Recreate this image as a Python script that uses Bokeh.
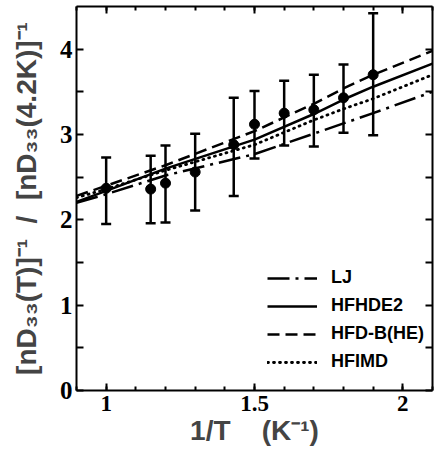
from bokeh.plotting import figure
from bokeh.models import (Range1d, LinearAxis, FixedTicker, Whisker, TeeHead,
                          ColumnDataSource, Legend, LegendItem)
from bokeh.embed import file_html
from bokeh.resources import INLINE

# ---- data ----
x_data = [1.0, 1.15, 1.2, 1.3, 1.43, 1.5, 1.6, 1.7, 1.8, 1.9]
y_data = [2.37, 2.36, 2.43, 2.56, 2.88, 3.12, 3.25, 3.29, 3.43, 3.70]
y_upper = [2.73, 2.75, 2.87, 3.01, 3.43, 3.51, 3.63, 3.70, 3.82, 4.42]
y_lower = [1.95, 1.96, 1.97, 2.11, 2.28, 2.72, 2.87, 2.86, 3.02, 2.99]

curve_x = [0.9, 1.0, 1.2, 1.5, 1.7, 1.8, 1.9, 2.1]
lj = [2.20, 2.30, 2.52, 2.77, 3.01, 3.13, 3.25, 3.50]
hfhde2 = [2.21, 2.34, 2.60, 2.94, 3.24, 3.41, 3.56, 3.83]
hfdb = [2.28, 2.40, 2.64, 3.04, 3.36, 3.54, 3.70, 3.98]
hfimd = [2.26, 2.36, 2.58, 2.88, 3.17, 3.30, 3.42, 3.70]

series_names = ["LJ", "HFHDE2", "HFD-B(HE)", "HFIMD"]

x_major_ticks = [1, 1.5, 2]
x_tick_labels = ["1", "1.5", "2"]
x_minor_ticks = [0.9, 1.0, 1.1, 1.2, 1.3, 1.4, 1.5, 1.6, 1.7, 1.8, 1.9, 2.0, 2.1]
y_major_ticks = [0, 1, 2, 3, 4]
y_tick_labels = ["0", "1", "2", "3", "4"]
y_minor_ticks = [0.5, 1.5, 2.5, 3.5]

NB = "\u00a0"
x_title = "1/T" + NB * 4 + "(K\u207b\u00b9)"
y_title = ("[nD\u2083\u2083(T)]\u207b\u00b9" + NB * 2 + "/" + NB * 2 +
           "[nD\u2083\u2083(4.2K)]\u207b\u00b9")

FONT = "Liberation Sans"
TICK_FONT = "Liberation Sans Narrow"

p = figure(width=434, height=454, output_backend="svg", toolbar_location=None,
           x_range=Range1d(0.9, 2.1), y_range=Range1d(0, 4.5),
           min_border_left=76, min_border_right=2, min_border_top=6,
           min_border_bottom=64)
p.xgrid.grid_line_color = None
p.ygrid.grid_line_color = None
p.outline_line_color = None
p.background_fill_color = "white"
p.border_fill_color = "white"


def style_axis(ax, major, minor, labels, major_len, minor_len, show_labels, size="25px"):
    ax.ticker = FixedTicker(ticks=major, minor_ticks=minor)
    ax.axis_line_width = 2
    ax.axis_line_color = "black"
    ax.major_tick_in = major_len
    ax.major_tick_out = 0
    ax.minor_tick_in = minor_len
    ax.minor_tick_out = 0
    ax.major_tick_line_width = 2
    ax.minor_tick_line_width = 2
    ax.major_tick_line_color = "black"
    ax.minor_tick_line_color = "black"
    if show_labels:
        ax.major_label_overrides = {t: s for t, s in zip(major, labels)}
        ax.major_label_text_font = TICK_FONT
        ax.major_label_text_font_size = size
        ax.major_label_text_font_style = "bold"
        ax.major_label_text_color = "black"
    else:
        ax.major_label_overrides = {t: "" for t in major}
        ax.major_label_text_font_size = "1px"
        ax.major_label_standoff = 0


xb = p.xaxis[0]
style_axis(xb, x_major_ticks, x_minor_ticks, x_tick_labels, 7, 4, True, "23px")
xb.major_label_standoff = 5
xb.axis_label = x_title
xb.axis_label_text_font = FONT
xb.axis_label_text_font_size = "28px"
xb.axis_label_text_font_style = "bold"
xb.axis_label_standoff = 1

yl = p.yaxis[0]
style_axis(yl, y_major_ticks, y_minor_ticks, y_tick_labels, 7, 7, True, "25px")
yl.major_label_standoff = 4
yl.axis_label = y_title
yl.axis_label_text_font = FONT
yl.axis_label_text_font_size = "28px"
yl.axis_label_text_font_style = "bold"
yl.axis_label_standoff = 15

xt = LinearAxis()
style_axis(xt, x_major_ticks, x_minor_ticks, x_tick_labels, 7, 4, False)
p.add_layout(xt, "above")
yr = LinearAxis()
style_axis(yr, y_major_ticks, y_minor_ticks, y_tick_labels, 7, 7, False)
p.add_layout(yr, "right")

LW = 2.5
r_lj = p.line(curve_x, lj, line_color="black", line_width=LW, line_dash="22 6 3 6")
r_hd = p.line(curve_x, hfhde2, line_color="black", line_width=LW)
r_hb = p.line(curve_x, hfdb, line_color="black", line_width=LW, line_dash="12 6")
r_im = p.line(curve_x, hfimd, line_color="black", line_width=2.8, line_dash="1 5",
              line_cap="round")

src = ColumnDataSource(dict(x=x_data, y=y_data, upper=y_upper, lower=y_lower))
w = Whisker(base="x", upper="upper", lower="lower", source=src, dimension="height",
            line_width=2.5, line_color="black",
            upper_head=TeeHead(size=10, line_width=2.5, line_color="black"),
            lower_head=TeeHead(size=10, line_width=2.5, line_color="black"))
p.add_layout(w)
p.scatter("x", "y", source=src, size=10, fill_color="black", line_color="black")

legend = Legend(items=[LegendItem(label=n, renderers=[r]) for n, r in
                       zip(series_names, [r_lj, r_hd, r_hb, r_im])],
                location=(191, 18), orientation="vertical",
                glyph_width=50, glyph_height=20, label_height=20, spacing=7,
                label_standoff=14, padding=0, margin=0,
                border_line_color=None, background_fill_alpha=0,
                label_text_font=FONT, label_text_font_size="18px",
                label_text_font_style="bold", label_text_color="black")
p.add_layout(legend, "center")

open("out.html", "w").write(file_html(p, INLINE))
